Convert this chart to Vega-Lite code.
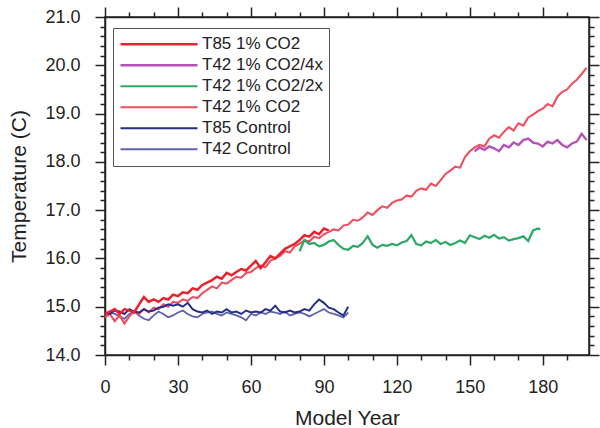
{
"$schema": "https://vega.github.io/schema/vega-lite/v6.json",
"width": 484, "height": 338,
"autosize": {"type": "none"},
"padding": {"left": 105, "top": 17, "right": 11, "bottom": 73},
"background": "white",
"config": {
  "font": "Liberation Sans",
  "view": {"stroke": "#222", "strokeWidth": 1.5},
  "axis": {"grid": false, "domainColor": "#222", "tickColor": "#222", "labelColor": "#222", "titleColor": "#222", "domainWidth": 1.5, "tickWidth": 1.5}
},
"datasets": {
  "d": [
{"series":"T42 Control","year":0,"temp":14.82},{"series":"T42 Control","year":2,"temp":14.88},{"series":"T42 Control","year":4,"temp":14.85},{"series":"T42 Control","year":6,"temp":14.8},{"series":"T42 Control","year":8,"temp":14.75},{"series":"T42 Control","year":10,"temp":14.85},{"series":"T42 Control","year":12,"temp":14.9},{"series":"T42 Control","year":14,"temp":14.82},{"series":"T42 Control","year":16,"temp":14.75},{"series":"T42 Control","year":18,"temp":14.72},{"series":"T42 Control","year":20,"temp":14.82},{"series":"T42 Control","year":22,"temp":14.9},{"series":"T42 Control","year":24,"temp":14.85},{"series":"T42 Control","year":26,"temp":14.78},{"series":"T42 Control","year":28,"temp":14.82},{"series":"T42 Control","year":30,"temp":14.88},{"series":"T42 Control","year":32,"temp":14.92},{"series":"T42 Control","year":34,"temp":14.85},{"series":"T42 Control","year":36,"temp":14.8},{"series":"T42 Control","year":38,"temp":14.78},{"series":"T42 Control","year":40,"temp":14.85},{"series":"T42 Control","year":42,"temp":14.88},{"series":"T42 Control","year":44,"temp":14.9},{"series":"T42 Control","year":46,"temp":14.85},{"series":"T42 Control","year":48,"temp":14.82},{"series":"T42 Control","year":50,"temp":14.88},{"series":"T42 Control","year":52,"temp":14.85},{"series":"T42 Control","year":54,"temp":14.82},{"series":"T42 Control","year":56,"temp":14.78},{"series":"T42 Control","year":58,"temp":14.72},{"series":"T42 Control","year":60,"temp":14.85},{"series":"T42 Control","year":62,"temp":14.82},{"series":"T42 Control","year":64,"temp":14.88},{"series":"T42 Control","year":66,"temp":14.85},{"series":"T42 Control","year":68,"temp":14.9},{"series":"T42 Control","year":70,"temp":14.88},{"series":"T42 Control","year":72,"temp":14.85},{"series":"T42 Control","year":74,"temp":14.9},{"series":"T42 Control","year":76,"temp":14.82},{"series":"T42 Control","year":78,"temp":14.85},{"series":"T42 Control","year":80,"temp":14.88},{"series":"T42 Control","year":82,"temp":14.85},{"series":"T42 Control","year":84,"temp":14.8},{"series":"T42 Control","year":86,"temp":14.85},{"series":"T42 Control","year":88,"temp":14.9},{"series":"T42 Control","year":90,"temp":14.95},{"series":"T42 Control","year":92,"temp":14.88},{"series":"T42 Control","year":94,"temp":14.85},{"series":"T42 Control","year":96,"temp":14.82},{"series":"T42 Control","year":98,"temp":14.78},{"series":"T42 Control","year":100,"temp":14.88},
{"series":"T42 1% CO2","year":0,"temp":14.78},{"series":"T42 1% CO2","year":2,"temp":14.85},{"series":"T42 1% CO2","year":4,"temp":14.7},{"series":"T42 1% CO2","year":6,"temp":14.82},{"series":"T42 1% CO2","year":8,"temp":14.65},{"series":"T42 1% CO2","year":10,"temp":14.8},{"series":"T42 1% CO2","year":12,"temp":14.9},{"series":"T42 1% CO2","year":14,"temp":14.85},{"series":"T42 1% CO2","year":16,"temp":14.95},{"series":"T42 1% CO2","year":18,"temp":14.88},{"series":"T42 1% CO2","year":20,"temp":14.98},{"series":"T42 1% CO2","year":22,"temp":14.95},{"series":"T42 1% CO2","year":24,"temp":15.05},{"series":"T42 1% CO2","year":26,"temp":15.0},{"series":"T42 1% CO2","year":28,"temp":15.1},{"series":"T42 1% CO2","year":30,"temp":15.08},{"series":"T42 1% CO2","year":32,"temp":15.15},{"series":"T42 1% CO2","year":34,"temp":15.12},{"series":"T42 1% CO2","year":36,"temp":15.2},{"series":"T42 1% CO2","year":38,"temp":15.18},{"series":"T42 1% CO2","year":40,"temp":15.28},{"series":"T42 1% CO2","year":42,"temp":15.35},{"series":"T42 1% CO2","year":44,"temp":15.42},{"series":"T42 1% CO2","year":46,"temp":15.38},{"series":"T42 1% CO2","year":48,"temp":15.5},{"series":"T42 1% CO2","year":50,"temp":15.48},{"series":"T42 1% CO2","year":52,"temp":15.55},{"series":"T42 1% CO2","year":54,"temp":15.62},{"series":"T42 1% CO2","year":56,"temp":15.6},{"series":"T42 1% CO2","year":58,"temp":15.7},{"series":"T42 1% CO2","year":60,"temp":15.72},{"series":"T42 1% CO2","year":62,"temp":15.8},{"series":"T42 1% CO2","year":64,"temp":15.85},{"series":"T42 1% CO2","year":66,"temp":15.82},{"series":"T42 1% CO2","year":68,"temp":15.95},{"series":"T42 1% CO2","year":70,"temp":16.0},{"series":"T42 1% CO2","year":72,"temp":16.05},{"series":"T42 1% CO2","year":74,"temp":16.15},{"series":"T42 1% CO2","year":76,"temp":16.12},{"series":"T42 1% CO2","year":78,"temp":16.25},{"series":"T42 1% CO2","year":80,"temp":16.3},{"series":"T42 1% CO2","year":82,"temp":16.38},{"series":"T42 1% CO2","year":84,"temp":16.35},{"series":"T42 1% CO2","year":86,"temp":16.45},{"series":"T42 1% CO2","year":88,"temp":16.42},{"series":"T42 1% CO2","year":90,"temp":16.5},{"series":"T42 1% CO2","year":92,"temp":16.55},{"series":"T42 1% CO2","year":94,"temp":16.6},{"series":"T42 1% CO2","year":96,"temp":16.58},{"series":"T42 1% CO2","year":98,"temp":16.68},{"series":"T42 1% CO2","year":100,"temp":16.7},{"series":"T42 1% CO2","year":102,"temp":16.8},{"series":"T42 1% CO2","year":104,"temp":16.78},{"series":"T42 1% CO2","year":106,"temp":16.85},{"series":"T42 1% CO2","year":108,"temp":16.95},{"series":"T42 1% CO2","year":110,"temp":16.9},{"series":"T42 1% CO2","year":112,"temp":17.0},{"series":"T42 1% CO2","year":114,"temp":17.08},{"series":"T42 1% CO2","year":116,"temp":17.05},{"series":"T42 1% CO2","year":118,"temp":17.15},{"series":"T42 1% CO2","year":120,"temp":17.2},{"series":"T42 1% CO2","year":122,"temp":17.22},{"series":"T42 1% CO2","year":124,"temp":17.3},{"series":"T42 1% CO2","year":126,"temp":17.28},{"series":"T42 1% CO2","year":128,"temp":17.4},{"series":"T42 1% CO2","year":130,"temp":17.45},{"series":"T42 1% CO2","year":132,"temp":17.42},{"series":"T42 1% CO2","year":134,"temp":17.55},{"series":"T42 1% CO2","year":136,"temp":17.5},{"series":"T42 1% CO2","year":138,"temp":17.62},{"series":"T42 1% CO2","year":140,"temp":17.75},{"series":"T42 1% CO2","year":142,"temp":17.82},{"series":"T42 1% CO2","year":144,"temp":17.9},{"series":"T42 1% CO2","year":146,"temp":17.88},{"series":"T42 1% CO2","year":148,"temp":18.1},{"series":"T42 1% CO2","year":150,"temp":18.22},{"series":"T42 1% CO2","year":152,"temp":18.3},{"series":"T42 1% CO2","year":154,"temp":18.35},{"series":"T42 1% CO2","year":156,"temp":18.32},{"series":"T42 1% CO2","year":158,"temp":18.48},{"series":"T42 1% CO2","year":160,"temp":18.55},{"series":"T42 1% CO2","year":162,"temp":18.5},{"series":"T42 1% CO2","year":164,"temp":18.62},{"series":"T42 1% CO2","year":166,"temp":18.72},{"series":"T42 1% CO2","year":168,"temp":18.65},{"series":"T42 1% CO2","year":170,"temp":18.8},{"series":"T42 1% CO2","year":172,"temp":18.75},{"series":"T42 1% CO2","year":174,"temp":18.92},{"series":"T42 1% CO2","year":176,"temp":18.98},{"series":"T42 1% CO2","year":178,"temp":19.05},{"series":"T42 1% CO2","year":180,"temp":19.1},{"series":"T42 1% CO2","year":182,"temp":19.2},{"series":"T42 1% CO2","year":184,"temp":19.15},{"series":"T42 1% CO2","year":186,"temp":19.35},{"series":"T42 1% CO2","year":188,"temp":19.45},{"series":"T42 1% CO2","year":190,"temp":19.5},{"series":"T42 1% CO2","year":192,"temp":19.62},{"series":"T42 1% CO2","year":194,"temp":19.7},{"series":"T42 1% CO2","year":196,"temp":19.82},{"series":"T42 1% CO2","year":198,"temp":19.95},
{"series":"T42 1% CO2/2x","year":80,"temp":16.15},{"series":"T42 1% CO2/2x","year":82,"temp":16.38},{"series":"T42 1% CO2/2x","year":84,"temp":16.3},{"series":"T42 1% CO2/2x","year":86,"temp":16.32},{"series":"T42 1% CO2/2x","year":88,"temp":16.25},{"series":"T42 1% CO2/2x","year":90,"temp":16.28},{"series":"T42 1% CO2/2x","year":92,"temp":16.35},{"series":"T42 1% CO2/2x","year":94,"temp":16.38},{"series":"T42 1% CO2/2x","year":96,"temp":16.28},{"series":"T42 1% CO2/2x","year":98,"temp":16.2},{"series":"T42 1% CO2/2x","year":100,"temp":16.18},{"series":"T42 1% CO2/2x","year":102,"temp":16.26},{"series":"T42 1% CO2/2x","year":104,"temp":16.24},{"series":"T42 1% CO2/2x","year":106,"temp":16.32},{"series":"T42 1% CO2/2x","year":108,"temp":16.46},{"series":"T42 1% CO2/2x","year":110,"temp":16.28},{"series":"T42 1% CO2/2x","year":112,"temp":16.22},{"series":"T42 1% CO2/2x","year":114,"temp":16.28},{"series":"T42 1% CO2/2x","year":116,"temp":16.26},{"series":"T42 1% CO2/2x","year":118,"temp":16.3},{"series":"T42 1% CO2/2x","year":120,"temp":16.27},{"series":"T42 1% CO2/2x","year":122,"temp":16.33},{"series":"T42 1% CO2/2x","year":124,"temp":16.36},{"series":"T42 1% CO2/2x","year":126,"temp":16.48},{"series":"T42 1% CO2/2x","year":128,"temp":16.3},{"series":"T42 1% CO2/2x","year":130,"temp":16.27},{"series":"T42 1% CO2/2x","year":132,"temp":16.35},{"series":"T42 1% CO2/2x","year":134,"temp":16.32},{"series":"T42 1% CO2/2x","year":136,"temp":16.38},{"series":"T42 1% CO2/2x","year":138,"temp":16.3},{"series":"T42 1% CO2/2x","year":140,"temp":16.34},{"series":"T42 1% CO2/2x","year":142,"temp":16.28},{"series":"T42 1% CO2/2x","year":144,"temp":16.32},{"series":"T42 1% CO2/2x","year":146,"temp":16.37},{"series":"T42 1% CO2/2x","year":148,"temp":16.32},{"series":"T42 1% CO2/2x","year":150,"temp":16.48},{"series":"T42 1% CO2/2x","year":152,"temp":16.44},{"series":"T42 1% CO2/2x","year":154,"temp":16.4},{"series":"T42 1% CO2/2x","year":156,"temp":16.47},{"series":"T42 1% CO2/2x","year":158,"temp":16.43},{"series":"T42 1% CO2/2x","year":160,"temp":16.49},{"series":"T42 1% CO2/2x","year":162,"temp":16.41},{"series":"T42 1% CO2/2x","year":164,"temp":16.44},{"series":"T42 1% CO2/2x","year":166,"temp":16.37},{"series":"T42 1% CO2/2x","year":168,"temp":16.4},{"series":"T42 1% CO2/2x","year":170,"temp":16.42},{"series":"T42 1% CO2/2x","year":172,"temp":16.46},{"series":"T42 1% CO2/2x","year":174,"temp":16.36},{"series":"T42 1% CO2/2x","year":176,"temp":16.58},{"series":"T42 1% CO2/2x","year":178,"temp":16.62},{"series":"T42 1% CO2/2x","year":179,"temp":16.6},
{"series":"T42 1% CO2/4x","year":152,"temp":18.22},{"series":"T42 1% CO2/4x","year":154,"temp":18.3},{"series":"T42 1% CO2/4x","year":156,"temp":18.25},{"series":"T42 1% CO2/4x","year":158,"temp":18.32},{"series":"T42 1% CO2/4x","year":160,"temp":18.28},{"series":"T42 1% CO2/4x","year":162,"temp":18.22},{"series":"T42 1% CO2/4x","year":164,"temp":18.35},{"series":"T42 1% CO2/4x","year":166,"temp":18.3},{"series":"T42 1% CO2/4x","year":168,"temp":18.4},{"series":"T42 1% CO2/4x","year":170,"temp":18.35},{"series":"T42 1% CO2/4x","year":172,"temp":18.45},{"series":"T42 1% CO2/4x","year":174,"temp":18.48},{"series":"T42 1% CO2/4x","year":176,"temp":18.4},{"series":"T42 1% CO2/4x","year":178,"temp":18.38},{"series":"T42 1% CO2/4x","year":180,"temp":18.32},{"series":"T42 1% CO2/4x","year":182,"temp":18.42},{"series":"T42 1% CO2/4x","year":184,"temp":18.38},{"series":"T42 1% CO2/4x","year":186,"temp":18.45},{"series":"T42 1% CO2/4x","year":188,"temp":18.35},{"series":"T42 1% CO2/4x","year":190,"temp":18.3},{"series":"T42 1% CO2/4x","year":192,"temp":18.38},{"series":"T42 1% CO2/4x","year":194,"temp":18.42},{"series":"T42 1% CO2/4x","year":196,"temp":18.58},{"series":"T42 1% CO2/4x","year":198,"temp":18.45},
{"series":"T85 Control","year":0,"temp":14.88},{"series":"T85 Control","year":2,"temp":14.85},{"series":"T85 Control","year":4,"temp":14.92},{"series":"T85 Control","year":6,"temp":14.9},{"series":"T85 Control","year":8,"temp":14.85},{"series":"T85 Control","year":10,"temp":14.95},{"series":"T85 Control","year":12,"temp":14.9},{"series":"T85 Control","year":14,"temp":14.88},{"series":"T85 Control","year":16,"temp":14.95},{"series":"T85 Control","year":18,"temp":14.9},{"series":"T85 Control","year":20,"temp":14.92},{"series":"T85 Control","year":22,"temp":14.98},{"series":"T85 Control","year":24,"temp":15.0},{"series":"T85 Control","year":26,"temp":15.05},{"series":"T85 Control","year":28,"temp":15.02},{"series":"T85 Control","year":30,"temp":15.05},{"series":"T85 Control","year":32,"temp":15.0},{"series":"T85 Control","year":34,"temp":15.08},{"series":"T85 Control","year":36,"temp":14.95},{"series":"T85 Control","year":38,"temp":14.9},{"series":"T85 Control","year":40,"temp":14.88},{"series":"T85 Control","year":42,"temp":14.92},{"series":"T85 Control","year":44,"temp":14.85},{"series":"T85 Control","year":46,"temp":14.9},{"series":"T85 Control","year":48,"temp":14.88},{"series":"T85 Control","year":50,"temp":14.95},{"series":"T85 Control","year":52,"temp":14.88},{"series":"T85 Control","year":54,"temp":14.9},{"series":"T85 Control","year":56,"temp":14.85},{"series":"T85 Control","year":58,"temp":14.92},{"series":"T85 Control","year":60,"temp":14.88},{"series":"T85 Control","year":62,"temp":14.9},{"series":"T85 Control","year":64,"temp":14.88},{"series":"T85 Control","year":66,"temp":14.95},{"series":"T85 Control","year":68,"temp":14.92},{"series":"T85 Control","year":70,"temp":15.02},{"series":"T85 Control","year":72,"temp":14.9},{"series":"T85 Control","year":74,"temp":14.88},{"series":"T85 Control","year":76,"temp":14.92},{"series":"T85 Control","year":78,"temp":14.88},{"series":"T85 Control","year":80,"temp":14.9},{"series":"T85 Control","year":82,"temp":14.95},{"series":"T85 Control","year":84,"temp":14.92},{"series":"T85 Control","year":86,"temp":15.05},{"series":"T85 Control","year":88,"temp":15.15},{"series":"T85 Control","year":90,"temp":15.08},{"series":"T85 Control","year":92,"temp":14.98},{"series":"T85 Control","year":94,"temp":14.95},{"series":"T85 Control","year":96,"temp":14.88},{"series":"T85 Control","year":98,"temp":14.82},{"series":"T85 Control","year":100,"temp":15.0},
{"series":"T85 1% CO2","year":0,"temp":14.85},{"series":"T85 1% CO2","year":2,"temp":14.9},{"series":"T85 1% CO2","year":4,"temp":14.95},{"series":"T85 1% CO2","year":6,"temp":14.85},{"series":"T85 1% CO2","year":8,"temp":14.95},{"series":"T85 1% CO2","year":10,"temp":14.92},{"series":"T85 1% CO2","year":12,"temp":14.88},{"series":"T85 1% CO2","year":14,"temp":15.05},{"series":"T85 1% CO2","year":16,"temp":15.2},{"series":"T85 1% CO2","year":18,"temp":15.1},{"series":"T85 1% CO2","year":20,"temp":15.15},{"series":"T85 1% CO2","year":22,"temp":15.1},{"series":"T85 1% CO2","year":24,"temp":15.18},{"series":"T85 1% CO2","year":26,"temp":15.15},{"series":"T85 1% CO2","year":28,"temp":15.25},{"series":"T85 1% CO2","year":30,"temp":15.22},{"series":"T85 1% CO2","year":32,"temp":15.3},{"series":"T85 1% CO2","year":34,"temp":15.28},{"series":"T85 1% CO2","year":36,"temp":15.38},{"series":"T85 1% CO2","year":38,"temp":15.35},{"series":"T85 1% CO2","year":40,"temp":15.45},{"series":"T85 1% CO2","year":42,"temp":15.5},{"series":"T85 1% CO2","year":44,"temp":15.55},{"series":"T85 1% CO2","year":46,"temp":15.62},{"series":"T85 1% CO2","year":48,"temp":15.58},{"series":"T85 1% CO2","year":50,"temp":15.7},{"series":"T85 1% CO2","year":52,"temp":15.65},{"series":"T85 1% CO2","year":54,"temp":15.72},{"series":"T85 1% CO2","year":56,"temp":15.78},{"series":"T85 1% CO2","year":58,"temp":15.75},{"series":"T85 1% CO2","year":60,"temp":15.85},{"series":"T85 1% CO2","year":62,"temp":15.95},{"series":"T85 1% CO2","year":64,"temp":15.8},{"series":"T85 1% CO2","year":66,"temp":15.92},{"series":"T85 1% CO2","year":68,"temp":16.05},{"series":"T85 1% CO2","year":70,"temp":16.0},{"series":"T85 1% CO2","year":72,"temp":16.1},{"series":"T85 1% CO2","year":74,"temp":16.2},{"series":"T85 1% CO2","year":76,"temp":16.25},{"series":"T85 1% CO2","year":78,"temp":16.3},{"series":"T85 1% CO2","year":80,"temp":16.38},{"series":"T85 1% CO2","year":82,"temp":16.48},{"series":"T85 1% CO2","year":84,"temp":16.45},{"series":"T85 1% CO2","year":86,"temp":16.55},{"series":"T85 1% CO2","year":88,"temp":16.5},{"series":"T85 1% CO2","year":90,"temp":16.62},{"series":"T85 1% CO2","year":92,"temp":16.58}
  ]
},
"data": {"name": "d"},
"layer": [
  {
    "mark": {"type": "line", "interpolate": "linear"},
    "encoding": {
      "x": {"field": "year", "type": "quantitative", "scale": {"domain": [0, 199], "nice": false, "zero": false},
        "axis": {"orient": "bottom", "values": [0, 30, 60, 90, 120, 150, 180], "tickSize": 10, "labelFontSize": 18, "labelPadding": 13, "labelFlush": false, "title": "Model Year", "titleFontSize": 21, "titleFontWeight": "normal", "titleX": 242, "titleY": 69, "titleBaseline": "alphabetic", "titleAnchor": "middle"}},
      "y": {"field": "temp", "type": "quantitative", "scale": {"domain": [14, 21], "nice": false, "zero": false},
        "axis": {"orient": "left", "values": [14, 15, 16, 17, 18, 19, 20, 21], "format": ".1f", "tickSize": 10, "labelFontSize": 18, "labelPadding": 15, "labelFlush": false, "title": "Temperature (C)", "titleFontSize": 21, "titleFontWeight": "normal", "titleX": -86, "titleY": 169, "titleBaseline": "middle", "titleAnchor": "middle"}},
      "color": {"field": "series", "type": "nominal",
        "scale": {"domain": ["T85 1% CO2", "T42 1% CO2/4x", "T42 1% CO2/2x", "T42 1% CO2", "T85 Control", "T42 Control"],
                  "range": ["#e8232e", "#b552b5", "#2ea866", "#ee4e5e", "#252d8a", "#5f62b0"]},
        "legend": {"orient": "none", "legendX": 8, "legendY": 11, "title": null, "symbolType": "stroke", "symbolSize": 5929, "symbolStrokeWidth": 2.5, "labelFontSize": 17, "labelOffset": 3, "clipHeight": 20.5, "rowPadding": 0, "padding": 6, "strokeColor": "#555", "fillColor": "white", "labelColor": "#222", "labelLimit": 300}},
      "strokeWidth": {"field": "series", "type": "nominal",
        "scale": {"domain": ["T85 1% CO2", "T42 1% CO2/4x", "T42 1% CO2/2x", "T42 1% CO2", "T85 Control", "T42 Control"], "range": [2.5, 1.8, 1.8, 1.6, 2.5, 1.6]},
        "legend": null}
    }
  },
  {
    "mark": {"type": "point", "opacity": 0},
    "encoding": {
      "x": {"field": "year", "type": "quantitative", "axis": {"orient": "bottom", "values": [10, 20, 40, 50, 70, 80, 100, 110, 130, 140, 160, 170, 190], "tickSize": 5, "labels": false, "domain": false, "title": null}},
      "y": {"field": "temp", "type": "quantitative", "axis": {"orient": "left", "values": [14.2, 14.4, 14.6, 14.8, 15.2, 15.4, 15.6, 15.8, 16.2, 16.4, 16.6, 16.8, 17.2, 17.4, 17.6, 17.8, 18.2, 18.4, 18.6, 18.8, 19.2, 19.4, 19.6, 19.8, 20.2, 20.4, 20.6, 20.8], "tickSize": 5, "labels": false, "domain": false, "title": null}}
    }
  },
  {
    "mark": {"type": "point", "opacity": 0},
    "encoding": {
      "x": {"field": "year", "type": "quantitative", "axis": {"orient": "top", "values": [0, 30, 60, 90, 120, 150, 180], "tickSize": 10, "labels": false, "title": null}},
      "y": {"field": "temp", "type": "quantitative", "axis": {"orient": "right", "values": [14, 15, 16, 17, 18, 19, 20, 21], "tickSize": 10, "labels": false, "title": null}}
    }
  },
  {
    "mark": {"type": "point", "opacity": 0},
    "encoding": {
      "x": {"field": "year", "type": "quantitative", "axis": {"orient": "top", "values": [10, 20, 40, 50, 70, 80, 100, 110, 130, 140, 160, 170, 190], "tickSize": 5, "labels": false, "domain": false, "title": null}},
      "y": {"field": "temp", "type": "quantitative", "axis": {"orient": "right", "values": [14.2, 14.4, 14.6, 14.8, 15.2, 15.4, 15.6, 15.8, 16.2, 16.4, 16.6, 16.8, 17.2, 17.4, 17.6, 17.8, 18.2, 18.4, 18.6, 18.8, 19.2, 19.4, 19.6, 19.8, 20.2, 20.4, 20.6, 20.8], "tickSize": 5, "labels": false, "domain": false, "title": null}}
    }
  }
],
"resolve": {"axis": {"x": "independent", "y": "independent"}}
}
